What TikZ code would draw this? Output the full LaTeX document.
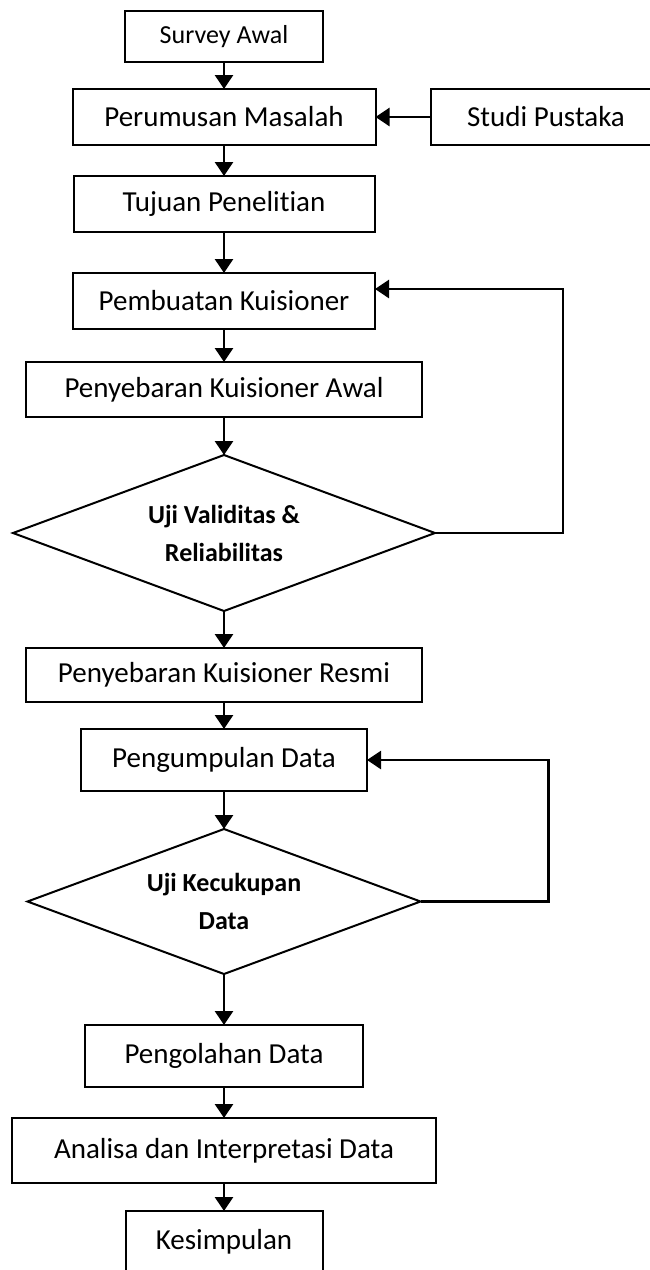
\documentclass[tikz,border=0pt]{standalone}
\usepackage{fontspec}
\setmainfont[Ligatures=NoCommon]{Carlito}
\usetikzlibrary{arrows.meta,positioning,shapes.geometric}
\tikzset{
    %Define standard arrow tip
    >={Triangle[width=9pt,length=7pt]},
    %Define style for boxes
    kotak/.style={
           rectangle,
           draw=black,
           line width=1pt,
           outer sep=0pt,
           minimum height=28pt,
           inner sep=2pt,
           font=\fontsize{14.5}{17}\selectfont,
           text centered},
    % Define style for decisions
    keputusan/.style={
           diamond,
           aspect=2.7,
           draw=black,
           line width=1pt,
           outer sep=0pt,
           inner sep=0pt,
           align=center,
           font=\fontsize{13}{19}\selectfont\bfseries},
    % Define arrow style
    panah/.style={
           ->,
           line width=1.3pt}
}

\begin{document}
\begin{tikzpicture}[node distance=15pt, auto,]
  \useasboundingbox (0,0) rectangle (324.5pt,-635pt);
  \node[kotak, minimum width=99pt, minimum height=25.5pt, font=\fontsize{13}{15}\selectfont] (survey) at (112pt,-18.25pt) {Survey Awal};
  \node[kotak, minimum width=151.5pt, below=13.5pt of survey] (perumusan) {Perumusan Masalah};
  \node[kotak, minimum width=115.5pt, right=27.5pt of perumusan] (studi) {Studi Pustaka};
  \node[kotak, minimum width=150.5pt, below=15.5pt of perumusan] (tujuan) {Tujuan Penelitian};
  \node[kotak, minimum width=151pt, below=20.5pt of tujuan] (pembuatan) {Pembuatan Kuisioner};
  \node[kotak, minimum width=198pt, minimum height=27.5pt, below=16.5pt of pembuatan] (awal) {Penyebaran Kuisioner Awal};
  \node[keputusan, minimum width=211pt, minimum height=78pt, below=19pt of awal] (validitas) {Uji Validitas \&\\Reliabilitas};
  \node[kotak, minimum width=198pt, minimum height=27pt, below=18.5pt of validitas] (resmi) {Penyebaran Kuisioner Resmi};
  \node[kotak, minimum width=143pt, minimum height=31pt, below=13.5pt of resmi] (pengumpulan) {Pengumpulan Data};
  \node[keputusan, minimum width=196.5pt, minimum height=72.5pt, below=19pt of pengumpulan] (kecukupan) {Uji Kecukupan\\Data};
  \node[kotak, minimum width=139pt, minimum height=31pt, below=25.5pt of kecukupan] (pengolahan) {Pengolahan Data};
  \node[kotak, minimum width=212pt, minimum height=32.5pt, below=15.5pt of pengolahan] (analisa) {Analisa dan Interpretasi Data};
  \node[kotak, minimum width=98.5pt, minimum height=31pt, below=14pt of analisa] (kesimpulan) {Kesimpulan};

  \draw[panah] (survey) -- (perumusan);
  \draw[panah] (studi) -- (perumusan);
  \draw[panah] (perumusan) -- (tujuan);
  \draw[panah] (tujuan) -- (pembuatan);
  \draw[panah] (pembuatan) -- (awal);
  \draw[panah] (awal) -- (validitas);
  \draw[panah] (validitas) -- (resmi);
  \draw[panah] (resmi) -- (pengumpulan);
  \draw[panah] (pengumpulan) -- (kecukupan);
  \draw[panah] (kecukupan) -- (pengolahan);
  \draw[panah] (pengolahan) -- (analisa);
  \draw[panah] (analisa) -- (kesimpulan);
  % loops back
  \draw[panah] (validitas.east) -- ++(64pt,0) |- ([yshift=6pt]pembuatan.east);
  \draw[panah] (kecukupan.east) -- ++(64pt,0) |- (pengumpulan.east);
\end{tikzpicture}
\end{document}
